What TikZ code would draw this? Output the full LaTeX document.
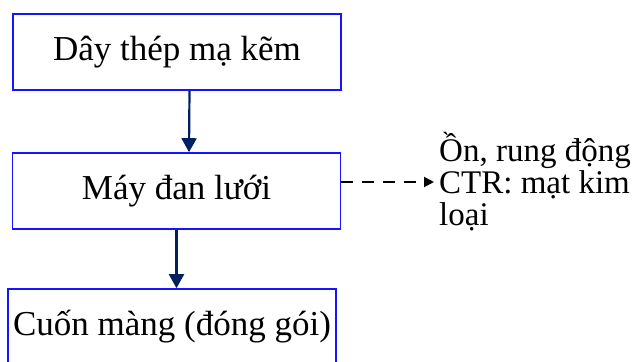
\documentclass[tikz,border=0pt]{standalone}
\usepackage{fontspec}
\setmainfont{Liberation Serif}
\usetikzlibrary{arrows.meta,calc}
\definecolor{boxblue}{RGB}{20,20,255}
\definecolor{navy}{RGB}{0,32,96}
\tikzset{
  stagebox/.style={draw=boxblue, line width=1.6pt, minimum width=328pt, minimum height=76pt,
    inner sep=0pt, font=\fontsize{35}{40}\selectfont},
  flowarrow/.style={draw=navy, line width=2.2pt, -{Triangle[width=15pt,length=14pt]}},
  sidearrow/.style={draw=black, line width=2pt, dash pattern=on 12pt off 9pt,
    -{Triangle[width=10pt,length=10pt]}},
  sidenote/.style={align=left, inner sep=0pt, font=\fontsize{33}{32}\selectfont}
}
\begin{document}
\begin{tikzpicture}[x=1pt,y=-1pt]
  \useasboundingbox (0,0) rectangle (633,362);
  \node[stagebox] (wire) at (177,52) {Dây thép mạ kẽm};
  \node[stagebox] (loom) at (176.5,191) {Máy đan lưới};
  \node[stagebox] (wrap) at (172,327) {Cuốn màng (đóng gói)};
  \node[sidenote, anchor=west] (waste) at (439,182) {Ồn, rung động\\CTR: mạt kim\\loại};
  \draw[flowarrow] ([xshift=12.5pt]wire.south) -- ([xshift=12.5pt]loom.north);
  \draw[flowarrow] (loom.south) -- (loom.south |- wrap.north);
  \draw[sidearrow] (waste.west -| loom.east) -- ([xshift=-5pt]waste.west);
\end{tikzpicture}
\end{document}
